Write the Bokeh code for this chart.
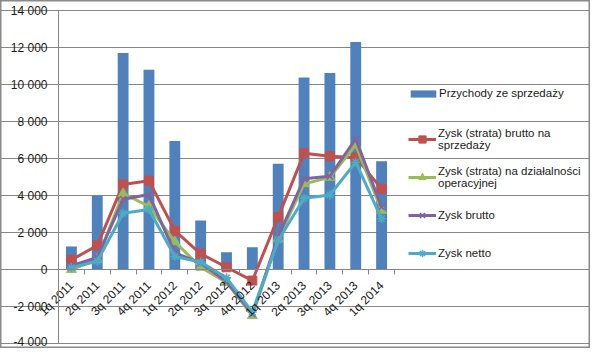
import math
from bokeh.plotting import figure
from bokeh.models import (Range1d, LinearAxis, FixedTicker, Legend, LegendItem, ColumnDataSource, Grid)
from bokeh.embed import file_html
from bokeh.resources import INLINE

categories = ["1q 2011", "2q 2011", "3q 2011", "4q 2011", "1q 2012", "2q 2012", "3q 2012",
              "4q 2012", "1q 2013", "2q 2013", "3q 2013", "4q 2013", "1q 2014"]
revenue = [1250, 4000, 11700, 10800, 6950, 2650, 930, 1200, 5720, 10380, 10620, 12300, 5850]
gross_on_sales = [520, 1300, 4600, 4800, 2100, 850, 120, -600, 2830, 6280, 6120, 6060, 4360]
operating = [0, 550, 4100, 3420, 1500, 120, -700, -2500, 1660, 4630, 4980, 6730, 3190]
gross = [200, 650, 3800, 4050, 900, 350, -650, -2400, 1780, 4900, 5040, 7060, 3370]
net = [100, 450, 3040, 3240, 700, 400, -450, -2300, 1570, 3850, 4030, 5800, 2740]
y_ticks = [-4000, -2000, 0, 2000, 4000, 6000, 8000, 10000, 12000, 14000]

names = ["Przychody ze sprzedaży", "Zysk (strata) brutto na\nsprzedaży",
         "Zysk (strata) na działalności\noperacyjnej", "Zysk brutto", "Zysk netto"]

FONT = "Liberation Sans"
FS = "12px"
LFS = "11.5px"
TXT = "#1a1a1a"
GRID = "#868686"

W, H = 590, 348
n = len(categories)
idx = list(range(n))
src = ColumnDataSource(dict(x=idx, cat=categories, revenue=revenue, gs=gross_on_sales,
                            op=operating, gr=gross, net=net))

# plot area in figure pixels: x 58..394, y 10..343
PL, PR, PT, PB = 58, 394, 10, 343
px_per_cat = (PR - PL) / n
x0 = -0.5 - PL / px_per_cat
x1 = x0 + W / px_per_cat
per_px = 18000 / (PB - PT)
y1 = 14000 + PT * per_px
y0 = -4000 - (H - PB) * per_px

p = figure(x_range=Range1d(x0, x1), y_range=Range1d(y0, y1),
           width=W, height=H, min_border=0,
           output_backend="svg", toolbar_location=None,
           x_axis_location=None, y_axis_location=None,
           background_fill_color="white", border_fill_color="white")
p.outline_line_color = "#8a8a8a"
p.outline_line_width = 2
p.xgrid.visible = False
p.ygrid.visible = False

grid = Grid(dimension=1, ticker=FixedTicker(ticks=y_ticks), bounds=(-0.5, n - 0.5),
            grid_line_color=GRID)
p.add_layout(grid)

ya = LinearAxis(fixed_location=-0.5, ticker=FixedTicker(ticks=y_ticks), bounds=(-4000, 14000))
ya.major_label_overrides = {v: f"{v:,}".replace(",", " ") for v in y_ticks}
ya.axis_line_color = GRID
ya.major_tick_line_color = GRID
ya.major_tick_out = 6
ya.major_tick_in = 0
ya.minor_tick_line_color = None
ya.major_label_text_font = FONT
ya.major_label_text_font_size = FS
ya.major_label_text_color = TXT
ya.major_label_standoff = 5
p.add_layout(ya, "left")

# category label axis fixed at zero
xa = LinearAxis(fixed_location=0, ticker=FixedTicker(ticks=idx), bounds=(-0.5, n - 0.5))
xa.major_label_overrides = {i: c for i, c in zip(idx, categories)}
xa.major_label_orientation = math.pi / 4
xa.major_label_text_font = FONT
xa.major_label_text_font_size = FS
xa.major_label_text_color = TXT
xa.major_tick_line_color = None
xa.minor_tick_line_color = None
xa.axis_line_color = GRID
xa.major_label_standoff = 8
p.add_layout(xa, "below")

# tick marks at category boundaries
ta = LinearAxis(fixed_location=0, ticker=FixedTicker(ticks=[i - 0.5 for i in range(n + 1)]),
                bounds=(-0.5, n - 0.5))
ta.major_label_text_font_size = "0px"
ta.major_label_text_alpha = 0
ta.axis_line_color = GRID
ta.major_tick_line_color = GRID
ta.major_tick_out = 5
ta.major_tick_in = 0
ta.minor_tick_line_color = None
p.add_layout(ta, "below")

bars = p.vbar(x="x", top="revenue", width=0.42, source=src,
              fill_color="#4F81BD", line_color=None)

series = [
    ("gs", "#C0504D", "square", 9, 1),
    ("op", "#9BBB59", "triangle", 10, 1),
    ("gr", "#8064A2", "x", 9, 1.5),
    ("net", "#4BACC6", "asterisk", 9, 1.5),
]
items = []
for i, (col, color, marker, size, mlw) in enumerate(series):
    ln = p.line(x="x", y=col, source=src, line_color=color, line_width=3)
    sc = p.scatter(x="x", y=col, source=src, marker=marker, size=size,
                   fill_color=color, line_color=color, line_width=mlw)
    items.append(LegendItem(label=names[i + 1], renderers=[ln, sc]))

leg1 = Legend(items=[LegendItem(label=names[0], renderers=[bars])],
              location=(407, 248), glyph_width=32, glyph_height=9, label_height=14,
              label_standoff=0, padding=0, margin=0, border_line_color=None,
              background_fill_alpha=0, label_text_font=FONT, label_text_font_size=LFS,
              label_text_color=TXT)
leg2 = Legend(items=items, location=(408, 80), glyph_width=28, glyph_height=18,
              label_height=30, spacing=8, label_standoff=2, padding=0, margin=0,
              border_line_color=None, background_fill_alpha=0, label_text_font=FONT,
              label_text_font_size=LFS, label_text_color=TXT)
p.add_layout(leg1, "center")
p.add_layout(leg2, "center")

open("out.html", "w").write(file_html(p, INLINE))
